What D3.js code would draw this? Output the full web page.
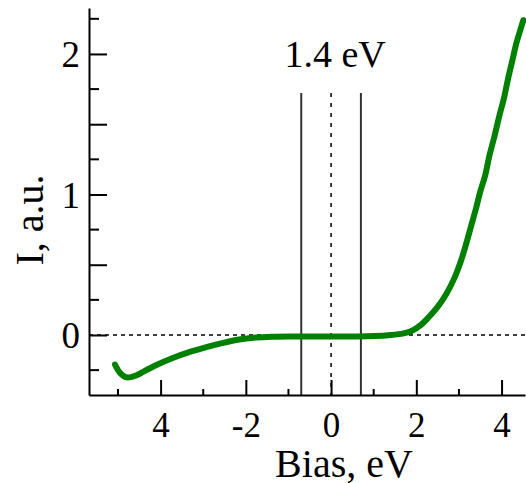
<!DOCTYPE html>
<html>
<head>
<meta charset="utf-8">
<script src="https://cdnjs.cloudflare.com/ajax/libs/d3/7.8.5/d3.min.js"></script>
<style>
  body { margin: 0; background: #fff; }
  text { font-family: "Liberation Serif", "Times New Roman", serif; fill: #000; }
</style>
</head>
<body>
<svg class="chart"></svg>
<script>
// data
var bias = [-5.07, -5.0, -4.92, -4.82, -4.7, -4.55, -4.4, -4.11, -3.73, -3.33, -2.93, -2.56, -2.16, -1.76, -1.38,
            -1.0, -0.5, 0, 0.5, 1.0, 1.4, 1.7, 1.9, 2.1, 2.3, 2.5, 2.7, 2.9, 3.05, 3.17, 3.29, 3.4, 3.5,
            3.62, 3.71, 3.83, 3.94, 4.06, 4.15, 4.25, 4.35, 4.45, 4.51];
var current = [-0.21, -0.25, -0.28, -0.3, -0.3, -0.285, -0.26, -0.215, -0.165, -0.122, -0.087, -0.058, -0.032, -0.018, -0.012,
               -0.01, -0.01, -0.01, -0.01, -0.008, 0.0, 0.012, 0.03, 0.07, 0.13, 0.2, 0.29, 0.41, 0.53, 0.65, 0.78, 0.9, 1.02,
               1.14, 1.27, 1.41, 1.55, 1.69, 1.82, 1.95, 2.08, 2.18, 2.24];
var xTickValues = [-4, -2, 0, 2, 4];
var xTickLabels = ["4", "-2", "0", "2", "4"];
var xMinorTicks = [-5, -3, -1, 1, 3];
var yTickValues = [0, 1, 2];
var yMajorTicks = [0, 0.5, 1, 1.5, 2];
var yMinorTicks = [-0.25, 0.25, 0.75, 1.25, 1.75, 2.25];
var gapEdges = [-0.7, 0.7];
var gapLabel = "1.4 eV";

var width = 526, height = 483;

var x = d3.scaleLinear().domain([-5.68, 4.55]).range([89, 525]);
var y = d3.scaleLinear().domain([-0.427, 2.327]).range([395, 8]);

var chart = d3.select(".chart").attr("width", width).attr("height", height);

// zero lines
chart.append("line")
  .attr("x1", x(-5.68)).attr("x2", width)
  .attr("y1", y(0)).attr("y2", y(0))
  .attr("stroke", "#000").attr("stroke-width", 1.5).attr("stroke-dasharray", "4,4");
chart.append("line")
  .attr("x1", x(0)).attr("x2", x(0))
  .attr("y1", 93).attr("y2", y(-0.427))
  .attr("stroke", "#000").attr("stroke-width", 1.5).attr("stroke-dasharray", "4,6");

// gap edges
chart.selectAll(".gap")
  .data(gapEdges)
  .enter().append("line")
  .attr("class", "gap")
  .attr("x1", function(d) { return x(d); })
  .attr("x2", function(d) { return x(d); })
  .attr("y1", 93).attr("y2", y(-0.427))
  .attr("stroke", "#333").attr("stroke-width", 2);

chart.append("text")
  .attr("x", x(0) + 4).attr("y", 67)
  .style("text-anchor", "middle")
  .style("font-size", "38px")
  .text(gapLabel);

// curve
var line = d3.line()
  .x(function(d, i) { return x(bias[i]); })
  .y(function(d) { return y(d); })
  .curve(d3.curveCatmullRom);

chart.append("path")
  .datum(current)
  .attr("d", line)
  .attr("fill", "none")
  .attr("stroke", "#008000")
  .attr("stroke-width", 6)
  .attr("stroke-linecap", "round")
  .attr("stroke-linejoin", "round");

// x axis
var xAxis = chart.append("g").attr("transform", "translate(0," + y(-0.427) + ")");
xAxis.call(d3.axisBottom(x).tickValues(xTickValues).tickSizeInner(-15).tickSizeOuter(0)
  .tickFormat(function(d, i) { return xTickLabels[i]; }));
xAxis.selectAll(".tick line").attr("stroke", "#000").attr("stroke-width", 2);
xAxis.selectAll(".tick text").attr("y", 42).attr("dy", 0).style("font-size", "35px");
xAxis.select(".domain").attr("stroke", "#000").attr("stroke-width", 2);
xAxis.selectAll(".minor")
  .data(xMinorTicks)
  .enter().append("line")
  .attr("class", "minor")
  .attr("x1", function(d) { return x(d); })
  .attr("x2", function(d) { return x(d); })
  .attr("y1", 0).attr("y2", -6)
  .attr("stroke", "#000").attr("stroke-width", 2);

// y axis
var yAxis = chart.append("g").attr("transform", "translate(" + x(-5.68) + ",0)");
yAxis.call(d3.axisLeft(y).tickValues(yMajorTicks).tickSizeInner(-18).tickSizeOuter(0)
  .tickFormat(function(d) { return yTickValues.indexOf(d) >= 0 ? d : ""; }));
yAxis.selectAll(".tick line").attr("stroke", "#000").attr("stroke-width", 2);
yAxis.selectAll(".tick text").attr("x", -9).attr("dy", "0.35em").style("font-size", "37px");
yAxis.select(".domain").attr("stroke", "#000").attr("stroke-width", 2);
yAxis.selectAll(".minor")
  .data(yMinorTicks)
  .enter().append("line")
  .attr("class", "minor")
  .attr("x1", 0).attr("x2", 10)
  .attr("y1", function(d) { return y(d); })
  .attr("y2", function(d) { return y(d); })
  .attr("stroke", "#000").attr("stroke-width", 2);

// axis titles
chart.append("text")
  .attr("x", 344).attr("y", 477)
  .style("text-anchor", "middle")
  .style("font-size", "40px")
  .text("Bias, eV");

chart.append("text")
  .attr("transform", "translate(43,220) rotate(-90)")
  .style("text-anchor", "middle")
  .style("font-size", "40px")
  .text("I, a.u.");
</script>
</body>
</html>
